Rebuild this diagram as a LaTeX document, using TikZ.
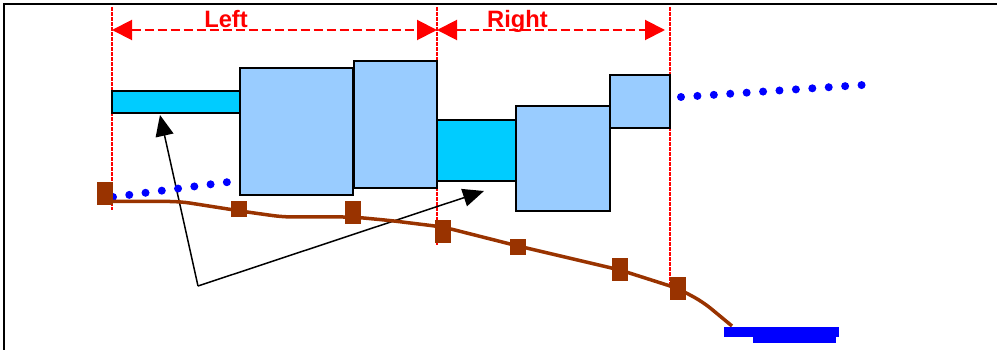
\documentclass[tikz,border=0pt]{standalone}
\usepackage{fontspec}
\setmainfont{Liberation Sans}
\usetikzlibrary{arrows.meta}
\definecolor{shaftcol}{HTML}{00CCFF}
\definecolor{bodycol}{HTML}{99CCFF}
\definecolor{rust}{HTML}{993300}
\begin{document}
\begin{tikzpicture}[x=1pt,y=-1pt,
  part/.style={draw=black, line width=1.5pt, inner sep=0pt, outer sep=0pt, anchor=north west},
  shaftbox/.style={part, fill=shaftcol},
  bodybox/.style={part, fill=bodycol},
  marker/.style={fill=rust, inner sep=0pt, outer sep=0pt, minimum width=16pt, minimum height=#1},
  guide/.style={red, line width=1.3pt, dash pattern=on 1.6pt off 0.9pt},
  dimarrow/.style={red, line width=2pt, dash pattern=on 9pt off 4pt, {Triangle[length=20pt,width=20pt]}-{Triangle[length=20pt,width=20pt]}},
  pointer/.style={black, line width=1.5pt, -{Triangle[length=21pt,width=18pt]}},
  dots/.style={blue, line width=8pt, line cap=round, dash pattern=on 0pt off #1},
  dimlabel/.style={red, font=\fontsize{23.7}{28}\selectfont\bfseries, anchor=base, inner sep=0pt},
  baseline/.style={blue, fill=blue, inner sep=0pt, outer sep=0pt, anchor=north west}]
\useasboundingbox (0,0) rectangle (997,350);
% frame
\coordinate (F0) at (4,4);
\coordinate (F1) at (997,4);
\coordinate (F2) at (4,350);
\draw[line width=1.8pt] (F1) -- (F0) -- (F2);
% guide lines
\coordinate (GL0) at (112,7);   \coordinate (GL1) at (112,210);
\coordinate (GM0) at (437,7);   \coordinate (GM1) at (437,245);
\coordinate (GR0) at (670,7);   \coordinate (GR1) at (670,284);
\draw[guide] (GL0) -- (GL1);
\draw[guide] (GM0) -- (GM1);
\draw[guide] (GR0) -- (GR1);
% dimension arrows
\coordinate (AL) at (112,30);
\coordinate (AM) at (437,30);
\coordinate (AR) at (665,30);
\draw[dimarrow] (AL) -- (AM);
\draw[dimarrow] (AM) -- (AR);
\node[dimlabel] (left) at (226,27.5) {Left};
\node[dimlabel] (right) at (517.5,27.5) {Right};
% pointers
\coordinate (P0) at (198,286);
\coordinate (P1) at (160,115);
\coordinate (P2) at (484,191);
\draw[pointer] (P0) -- (P1);
\draw[pointer] (P0) -- (P2);
% shaft parts
\node[shaftbox, minimum width=128pt, minimum height=22pt] (s1) at (112,91) {};
\node[bodybox, minimum width=113pt, minimum height=127pt] (b1) at (240,68) {};
\node[bodybox, minimum width=83pt, minimum height=127pt] (b2) at (354,61) {};
\node[shaftbox, minimum width=79pt, minimum height=61pt] (s2) at (437,120) {};
\node[bodybox, minimum width=94pt, minimum height=105pt] (b3) at (516,106) {};
\node[bodybox, minimum width=60pt, minimum height=53pt] (b4) at (610,75) {};
% dotted lines
\coordinate (D0) at (113,197); \coordinate (D1) at (228.5,182);
\coordinate (D2) at (681,97);  \coordinate (D3) at (862.5,85);
\draw[dots=16.4pt] (D0) -- (D1);
\draw[dots=16.45pt] (D2) -- (D3);
% brown line
\coordinate (c1) at (112,201.5);
\coordinate (c2) at (180,201.5);
\coordinate (c3) at (247,212);
\coordinate (c4) at (283,217);
\coordinate (c5) at (353,217);
\coordinate (c6) at (390,220.5);
\coordinate (c7) at (443,227);
\coordinate (c8) at (518,246);
\coordinate (c9) at (620,270);
\coordinate (c10) at (678,288.5);
\coordinate (c11) at (703,302);
\coordinate (c12) at (732,326);
\draw[rust, line width=3.5pt, rounded corners=10pt, line join=round]
  (c1) -- (c2) -- (c3) -- (c4) -- (c5) -- (c6) -- (c7) -- (c8) -- (c9) -- (c10) -- (c11) -- (c12);
% markers
\node[marker=23pt] (m1) at (105,193.5) {};
\node[marker=16pt] (m2) at (239,209) {};
\node[marker=23pt] (m3) at (353,212.5) {};
\node[marker=23pt] (m4) at (443,231.5) {};
\node[marker=16pt] (m5) at (518,247) {};
\node[marker=23pt] (m6) at (620,269.5) {};
\node[marker=23pt] (m7) at (678,288.5) {};
% base bars
\node[baseline, minimum width=115pt, minimum height=10pt] (bar1) at (724,327) {};
\node[baseline, minimum width=83pt, minimum height=6pt] (bar2) at (753,337) {};
\end{tikzpicture}
\end{document}
